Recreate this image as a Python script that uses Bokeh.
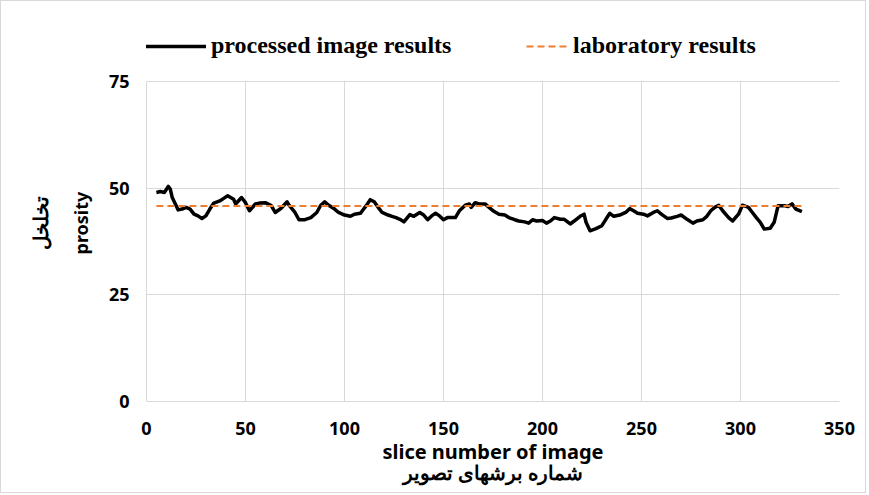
from bokeh.plotting import figure
from bokeh.models import Range1d, Legend, LegendItem, FixedTicker, BoxAnnotation, Title
from bokeh.embed import file_html
from bokeh.resources import INLINE

# processed image results (slice number, porosity)
slice_no = [5, 7, 9, 11, 12, 13, 15, 16, 18, 20, 22, 24, 26, 28, 30, 32, 34, 37, 39, 41,
            44, 45, 48, 50, 52, 55, 57, 60, 63, 65, 68, 71, 72, 75, 77, 80, 83, 86, 88, 90,
            92, 95, 97, 100, 103, 105, 108, 109, 111, 113, 115, 117, 119, 122, 124, 126, 128, 130, 133, 135,
            138, 140, 142, 144, 146, 148, 150, 152, 156, 158, 161, 163, 164, 166, 168, 171, 173, 175, 178, 181,
            183, 186, 188, 191, 193, 195, 197, 200, 202, 204, 206, 209, 211, 214, 216, 219, 221, 222, 224, 227,
            230, 232, 234, 236, 239, 242, 244, 246, 248, 251, 253, 256, 258, 260, 263, 265, 268, 270, 273, 276,
            278, 281, 283, 285, 287, 289, 291, 294, 296, 299, 301, 304, 306, 308, 310, 312, 315, 317, 319, 322,
            324, 326, 328, 331]
porosity = [49.0, 49.2, 49.0, 50.4, 49.8, 47.8, 45.9, 44.9, 45.1, 45.5, 45.1, 43.9, 43.5, 42.9, 43.5, 45.1, 46.5, 47.0, 47.6, 48.2,
            47.4, 46.3, 47.8, 46.6, 44.7, 46.3, 46.5, 46.6, 45.9, 44.3, 45.3, 46.8, 46.0, 44.3, 42.6, 42.6, 43.1, 44.3, 46.0, 46.8,
            46.0, 45.1, 44.3, 43.7, 43.4, 43.9, 44.1, 44.7, 45.9, 47.3, 46.8, 45.5, 44.3, 43.7, 43.4, 43.1, 42.7, 42.1, 43.8, 43.4,
            44.3, 43.7, 42.6, 43.5, 44.1, 43.5, 42.6, 43.1, 43.1, 44.7, 46.0, 46.3, 45.5, 46.6, 46.3, 46.3, 45.5, 44.7, 43.9, 43.7,
            43.1, 42.6, 42.3, 42.1, 41.8, 42.6, 42.3, 42.4, 41.8, 42.3, 43.1, 42.7, 42.7, 41.6, 42.3, 43.4, 43.9, 42.0, 40.0, 40.5,
            41.2, 42.7, 44.1, 43.4, 43.7, 44.3, 45.2, 44.7, 44.1, 43.9, 43.5, 44.3, 44.7, 43.9, 42.9, 43.0, 43.4, 43.7, 42.7, 41.8,
            42.3, 42.6, 43.4, 44.7, 45.5, 46.0, 44.7, 43.1, 42.3, 43.9, 46.0, 45.5, 44.3, 43.1, 42.0, 40.4, 40.6, 42.0, 45.9, 45.9,
            45.7, 46.3, 45.1, 44.5]

# laboratory results
lab_slice = [5, 331]
lab_porosity = [45.8, 45.8]

x_ticks = [0, 50, 100, 150, 200, 250, 300, 350]
y_ticks = [0, 25, 50, 75]

x_title = "slice number of image\nشماره برشهای تصویر"
y_title_en = "prosity"
y_title_fa = "تخلخل"
legend_labels = ["processed image results", "laboratory results"]

GRID = "#d9d9d9"
FONT = "Noto Sans"

# frame spans y=10..400 px; 0..75 occupies the lower 320 px, the rest holds the legend
p = figure(width=866, height=493, output_backend="svg", toolbar_location=None,
           x_range=Range1d(0, 350), y_range=Range1d(0, 91.4),
           min_border_left=145, min_border_right=28, min_border_top=10, min_border_bottom=93)
p.styles = {"border": "1px solid #d9d9d9"}
p.outline_line_color = None
p.background_fill_color = "white"
p.border_fill_color = "white"

p.xaxis.ticker = FixedTicker(ticks=x_ticks)
p.yaxis.ticker = FixedTicker(ticks=y_ticks)
p.xgrid.ticker = FixedTicker(ticks=x_ticks)
p.ygrid.ticker = FixedTicker(ticks=y_ticks)
p.xgrid.grid_line_color = GRID
p.ygrid.grid_line_color = GRID
p.yaxis.bounds = (0, 75)

# hide the grid above the top value of the axis (legend area)
p.add_layout(BoxAnnotation(bottom=75.15, fill_color="white", fill_alpha=1,
                           line_color=None, level="underlay"))

for ax in (p.xaxis, p.yaxis):
    ax.axis_line_color = GRID
    ax.major_tick_line_color = None
    ax.minor_tick_line_color = None
    ax.major_tick_out = 0
    ax.major_tick_in = 0
    ax.major_label_text_font = FONT
    ax.major_label_text_font_style = "bold"
    ax.major_label_text_font_size = "18px"
    ax.major_label_text_color = "black"
    ax.axis_label_text_font = FONT
    ax.axis_label_text_font_style = "bold"
    ax.axis_label_text_color = "black"

p.xaxis.major_label_standoff = 20
p.yaxis.major_label_standoff = 17
p.xaxis.axis_label = x_title
p.xaxis.axis_label_text_font_size = "20px"
p.xaxis.axis_label_standoff = 0
p.xaxis.axis_label_text_line_height = 0.8

# y titles: two rotated lines centred on the 0..75 part of the axis
p.add_layout(Title(text=y_title_en, align="left", offset=147, standoff=26,
                   text_font=FONT, text_font_style="bold", text_font_size="18px",
                   text_color="black"), "left")
p.add_layout(Title(text=y_title_fa, align="left", offset=152, standoff=0,
                   text_font=FONT, text_font_style="bold", text_font_size="20px",
                   text_color="black"), "left")

r1 = p.line(slice_no, porosity, line_color="black", line_width=3.5, line_join="round")
r2 = p.line(lab_slice, lab_porosity, line_color="#ED7D31", line_width=2, line_dash="7 4")

def make_legend(label, rend, loc, gw):
    return Legend(items=[LegendItem(label=label, renderers=[rend])], location=loc,
                  glyph_width=gw, glyph_height=20, label_height=20, label_standoff=5,
                  padding=0, margin=0, border_line_color=None, background_fill_alpha=0,
                  label_text_font="Liberation Serif", label_text_font_style="bold",
                  label_text_font_size="24px", label_text_color="black")

p.add_layout(make_legend(legend_labels[0], r1, (-2, 342), 62))
p.add_layout(make_legend(legend_labels[1], r2, (380, 342), 42))

open("out.html", "w").write(file_html(p, INLINE))
